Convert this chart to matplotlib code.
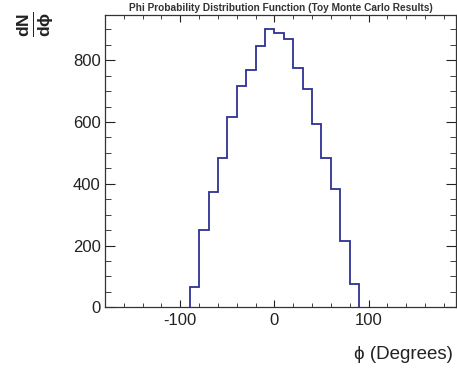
import matplotlib
matplotlib.use("Agg")
import matplotlib.pyplot as plt
from matplotlib.ticker import MultipleLocator
import numpy as np

# 10-degree bins from -90 to 90 (toy MC counts)
bin_edges = [-90, -80, -70, -60, -50, -40, -30, -20, -10, 0,
             10, 20, 30, 40, 50, 60, 70, 80, 90]
counts = [67, 250, 374, 485, 615, 718, 769, 845, 900,
          887, 868, 774, 707, 593, 483, 383, 216, 75]

title = "Phi Probability Distribution Function (Toy Monte Carlo Results)"
x_label = "\u03d5 (Degrees)"
y_label = r"$\frac{dN}{d\phi}$"

plt.rcParams["font.family"] = ["Liberation Sans", "DejaVu Sans"]
plt.rcParams["mathtext.fontset"] = "custom"
plt.rcParams["mathtext.rm"] = "Liberation Sans"
plt.rcParams["mathtext.it"] = "Liberation Sans:bold"
plt.rcParams["axes.unicode_minus"] = False

fig = plt.figure(figsize=(4.57, 3.72), dpi=100)
ax = fig.add_axes([0.2298, 0.174, 0.7681, 0.786])

ax.stairs(counts, bin_edges, color="#2e3192", lw=1.3)

ax.set_xlim(-180, 193)
ax.set_ylim(0, 947)

ax.xaxis.set_major_locator(MultipleLocator(100))
ax.xaxis.set_minor_locator(MultipleLocator(20))
ax.yaxis.set_major_locator(MultipleLocator(200))
ax.yaxis.set_minor_locator(MultipleLocator(50))

ax.tick_params(axis="both", which="both", direction="in", top=True, right=True,
               labelsize=12, colors="#222222")
ax.tick_params(axis="x", which="major", length=5, pad=4)
ax.tick_params(axis="x", which="minor", length=3)
ax.tick_params(axis="y", which="major", length=7.5, pad=3)
ax.tick_params(axis="y", which="minor", length=4)
for s in ax.spines.values():
    s.set_color("#333333")
    s.set_linewidth(0.9)

fig.text(0.615, 0.978, title, ha="center", va="center", fontsize=7.3,
         fontweight="bold", color="#333333")
fig.text(0.99, 0.046, x_label, ha="right", va="center", fontsize=13.5,
         color="#222222")
fig.text(0.076, 0.936, y_label, ha="center", va="center", rotation=90,
         fontsize=18, color="#222222")

fig.savefig("out.png", dpi=100)
